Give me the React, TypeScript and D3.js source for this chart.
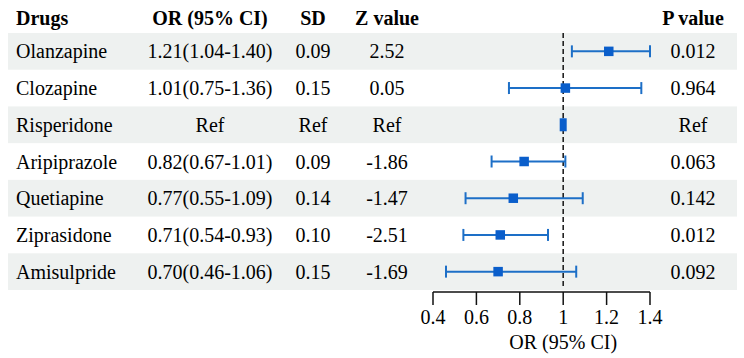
import React from 'react';
import * as d3 from 'd3';

const drugs = ['Olanzapine', 'Clozapine', 'Risperidone', 'Aripiprazole', 'Quetiapine', 'Ziprasidone', 'Amisulpride'];
const orText = ['1.21(1.04-1.40)', '1.01(0.75-1.36)', 'Ref', '0.82(0.67-1.01)', '0.77(0.55-1.09)', '0.71(0.54-0.93)', '0.70(0.46-1.06)'];
const sdText = ['0.09', '0.15', 'Ref', '0.09', '0.14', '0.10', '0.15'];
const zText = ['2.52', '0.05', 'Ref', '-1.86', '-1.47', '-2.51', '-1.69'];
const pText = ['0.012', '0.964', 'Ref', '0.063', '0.142', '0.012', '0.092'];
const orVal = [1.21, 1.01, 1, 0.82, 0.77, 0.71, 0.70];
const lowVal = [1.04, 0.75, 1, 0.67, 0.55, 0.54, 0.46];
const highVal = [1.40, 1.36, 1, 1.01, 1.09, 0.93, 1.06];
const xTicks = [0.4, 0.6, 0.8, 1, 1.2, 1.4];

const FONT = '"Liberation Serif", "Times New Roman", serif';
const LINE = '#1d6fc7';
const BOX = '#0a5ecb';

export default function App() {
  const W = 744, H = 358;
  const x = d3.scaleLinear().domain([0.4, 1.4]).range([433, 650]);
  const y = d3.scaleBand<number>().domain(d3.range(drugs.length)).range([33, 290]);
  const bh = y.bandwidth();
  const axisY = 292;
  const fs = 20;

  const cols = [
    { key: 'or', x: 210, data: orText, head: 'OR (95% CI)' },
    { key: 'sd', x: 313, data: sdText, head: 'SD' },
    { key: 'z', x: 387, data: zText, head: 'Z value' },
    { key: 'p', x: 693, data: pText, head: 'P value' },
  ];

  return (
    <svg width={W} height={H} style={{ position: 'absolute', left: 0, top: 0, background: '#fff' }}
      fontFamily={FONT}>
      {/* stripes */}
      {drugs.map((d, i) => i % 2 === 0 ? (
        <rect key={'bg' + i} x={8} y={y(i)!} width={729} height={bh} fill="#eef1f0" />
      ) : null)}

      {/* headers */}
      <text x={16} y={18} dy="0.35em" fontSize={fs} fontWeight="bold">Drugs</text>
      {cols.map(c => (
        <text key={'h' + c.key} x={c.x} y={18} dy="0.35em" fontSize={fs} fontWeight="bold" textAnchor="middle">{c.head}</text>
      ))}

      {/* table text */}
      {drugs.map((d, i) => (
        <text key={'n' + i} x={16} y={y(i)! + bh / 2} dy="0.35em" fontSize={fs}>{d}</text>
      ))}
      {cols.map(c => c.data.map((t, i) => (
        <text key={c.key + i} x={c.x} y={y(i)! + bh / 2} dy="0.35em" fontSize={fs} textAnchor="middle">{t}</text>
      )))}

      {/* reference line */}
      <line x1={x(1)} x2={x(1)} y1={33} y2={289} stroke="#222" strokeWidth={1.6} strokeDasharray="5,3" />

      {/* error bars */}
      {drugs.map((d, i) => {
        const cy = y(i)! + bh / 2;
        const s = i === 2 ? 7 : 9.5;
        return (
          <g key={'e' + i}>
            <line x1={x(lowVal[i])} x2={x(highVal[i])} y1={cy} y2={cy} stroke={LINE} strokeWidth={2} />
            <line x1={x(lowVal[i])} x2={x(lowVal[i])} y1={cy - 6} y2={cy + 6} stroke={LINE} strokeWidth={2} />
            <line x1={x(highVal[i])} x2={x(highVal[i])} y1={cy - 6} y2={cy + 6} stroke={LINE} strokeWidth={2} />
            <rect x={x(orVal[i]) - s / 2} y={cy - (i === 2 ? 6.5 : s / 2)} width={s} height={i === 2 ? 13 : s} fill={BOX} />
          </g>
        );
      })}

      {/* axis */}
      <line x1={x(0.4)} x2={x(1.4)} y1={axisY} y2={axisY} stroke="#111" strokeWidth={1.5} />
      {xTicks.map(t => (
        <g key={'t' + t}>
          <line x1={x(t)} x2={x(t)} y1={axisY} y2={axisY + 13} stroke="#111" strokeWidth={1.5} />
          <text x={x(t)} y={317} dy="0.35em" fontSize={fs} textAnchor="middle">{d3.format('~g')(t)}</text>
        </g>
      ))}
      <text x={x(1)} y={342} dy="0.35em" fontSize={fs} textAnchor="middle">OR (95% CI)</text>
    </svg>
  );
}
